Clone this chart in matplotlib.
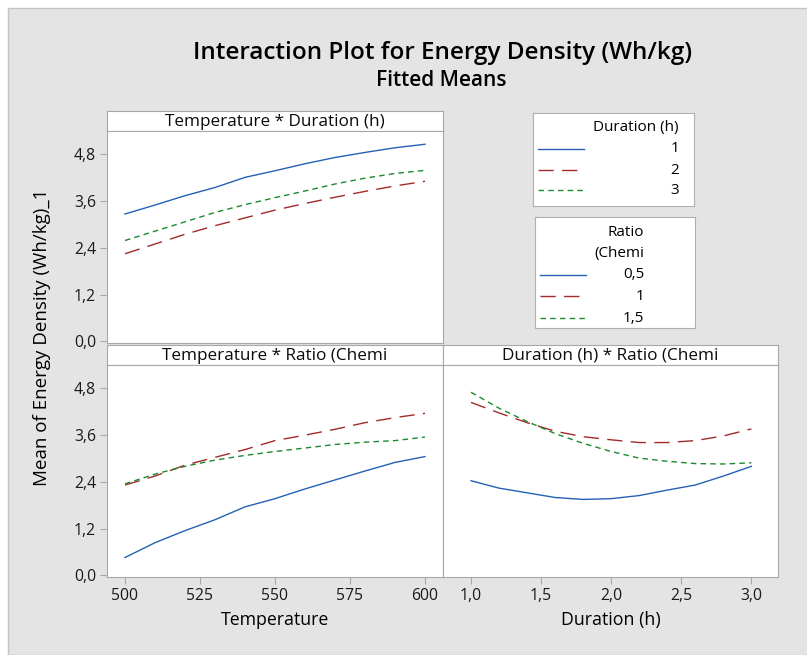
import matplotlib.pyplot as plt
from matplotlib.patches import Rectangle
from matplotlib.ticker import FuncFormatter

plt.rcParams['font.family'] = ['Open Sans', 'DejaVu Sans']

# data
temps = [500, 510, 520, 530, 540, 550, 560, 570, 580, 590, 600]
durations = [1.0, 1.2, 1.4, 1.6, 1.8, 2.0, 2.2, 2.4, 2.6, 2.8, 3.0]

dur_levels = ['1', '2', '3']
temp_by_dur_1 = [3.27, 3.50, 3.74, 3.95, 4.21, 4.38, 4.56, 4.72, 4.85, 4.97, 5.06]
temp_by_dur_2 = [2.25, 2.50, 2.75, 2.97, 3.17, 3.37, 3.54, 3.70, 3.85, 3.99, 4.11]
temp_by_dur_3 = [2.59, 2.83, 3.07, 3.31, 3.51, 3.69, 3.86, 4.04, 4.19, 4.31, 4.39]

ratio_levels = ['0,5', '1', '1,5']
temp_by_ratio_05 = [0.46, 0.84, 1.15, 1.43, 1.76, 1.97, 2.22, 2.45, 2.68, 2.90, 3.05]
temp_by_ratio_1 = [2.32, 2.55, 2.83, 3.03, 3.23, 3.46, 3.60, 3.75, 3.92, 4.05, 4.16]
temp_by_ratio_15 = [2.35, 2.60, 2.80, 2.96, 3.08, 3.18, 3.27, 3.36, 3.42, 3.46, 3.55]

dur_by_ratio_05 = [2.43, 2.24, 2.12, 2.00, 1.95, 1.97, 2.05, 2.19, 2.32, 2.55, 2.80]
dur_by_ratio_1 = [4.44, 4.17, 3.92, 3.70, 3.56, 3.48, 3.41, 3.41, 3.46, 3.58, 3.76]
dur_by_ratio_15 = [4.70, 4.29, 3.95, 3.64, 3.39, 3.18, 3.01, 2.93, 2.87, 2.86, 2.89]

yticks = [0.0, 1.2, 2.4, 3.6, 4.8]
temp_ticks = [500, 525, 550, 575, 600]
dur_ticks = [1.0, 1.5, 2.0, 2.5, 3.0]

styles = [
    dict(color='#2461b3', linestyle='-', linewidth=1.0),
    dict(color='#a12b2b', linestyle=(0, (11, 6)), linewidth=1.0),
    dict(color='#1c8a2c', linestyle=(0, (4, 3)), linewidth=1.0),
]

W, H = 807, 655
fig = plt.figure(figsize=(W / 100, H / 100), dpi=100)
fig.patch.set_facecolor('white')
fig.patches.append(Rectangle((8 / W, 0), 1, 1 - 8 / H, transform=fig.transFigure,
                             facecolor='#e4e4e4', edgecolor='#c4c4c4', linewidth=1, zorder=-1))

edge = '#a8a8a8'
comma = FuncFormatter(lambda v, p: f'{v:.1f}'.replace('.', ','))


def px_box(x0, y0, x1, y1):
    return [x0 / W, 1 - y1 / H, (x1 - x0) / W, (y1 - y0) / H]


def panel(x0, y0, x1, y1, title):
    strip = fig.add_axes(px_box(x0, y0, x1, y0 + 20))
    strip.set_xticks([])
    strip.set_yticks([])
    for s in strip.spines.values():
        s.set_color(edge)
    strip.text(0.5, 0.45, title, ha='center', va='center', fontsize=12.3, color='#0a0a0a')
    ax = fig.add_axes(px_box(x0, y0 + 20, x1, y1))
    for s in ax.spines.values():
        s.set_color(edge)
    ax.tick_params(colors=edge, labelcolor='#1a1a1a', labelsize=11.3, length=5, pad=3)
    ax.set_ylim(-0.04, 5.4)
    ax.set_yticks(yticks)
    ax.yaxis.set_major_formatter(comma)
    return ax


ax1 = panel(107, 111, 443, 343, 'Temperature * Duration (h)')
ax2 = panel(107, 345, 443, 577, 'Temperature * Ratio (Chemi')
ax3 = panel(443, 345, 778, 577, 'Duration (h) * Ratio (Chemi')

for ax in (ax1, ax2):
    ax.set_xlim(494, 606)
    ax.set_xticks(temp_ticks)
ax1.tick_params(axis='x', bottom=False, labelbottom=False)
ax3.set_xlim(0.80, 3.19)
ax3.set_xticks(dur_ticks)
ax3.xaxis.set_major_formatter(comma)
ax3.tick_params(axis='y', left=False, labelleft=False)

for ys, st in zip([temp_by_dur_1, temp_by_dur_2, temp_by_dur_3], styles):
    ax1.plot(temps, ys, **st)
for ys, st in zip([temp_by_ratio_05, temp_by_ratio_1, temp_by_ratio_15], styles):
    ax2.plot(temps, ys, **st)
for ys, st in zip([dur_by_ratio_05, dur_by_ratio_1, dur_by_ratio_15], styles):
    ax3.plot(durations, ys, **st)

ax2.set_xlabel('Temperature', fontsize=12.8, labelpad=5)
ax3.set_xlabel('Duration (h)', fontsize=12.8, labelpad=5)

fig.text(42 / W, 1 - 337 / H, 'Mean of Energy Density (Wh/kg)_1', rotation=90,
         ha='center', va='center', fontsize=13.5)
fig.text(443 / W, 1 - 53 / H, 'Interaction Plot for Energy Density (Wh/kg)',
         ha='center', va='center', fontsize=17.5, fontweight='semibold')
fig.text(441 / W, 1 - 81 / H, 'Fitted Means', ha='center', va='center',
         fontsize=15, fontweight='semibold')


def legend_box(x0, y0, x1, y1, title_lines, title_ys, labels, entry_ys, text_right, line_x):
    lg = fig.add_axes(px_box(x0, y0, x1, y1))
    lg.set_xlim(x0, x1)
    lg.set_ylim(y1, y0)
    lg.set_xticks([])
    lg.set_yticks([])
    for s in lg.spines.values():
        s.set_color('#b0b0b0')
    for t, ty in zip(title_lines, title_ys):
        lg.text(text_right, ty, t, ha='right', va='center', fontsize=11)
    for lab, ey, st in zip(labels, entry_ys, styles):
        lg.plot(line_x, [ey, ey], **st)
        lg.text(text_right, ey, lab, ha='right', va='center', fontsize=11)


legend_box(533, 113, 694, 206, ['Duration (h)'], [127], dur_levels,
           [149, 170, 190], 679, [538, 584])
legend_box(535, 217, 695, 328, ['Ratio', '(Chemi'], [232, 253], ratio_levels,
           [275, 296, 318], 644, [540, 586])

fig.savefig('out.png', dpi=100, facecolor=fig.get_facecolor())
